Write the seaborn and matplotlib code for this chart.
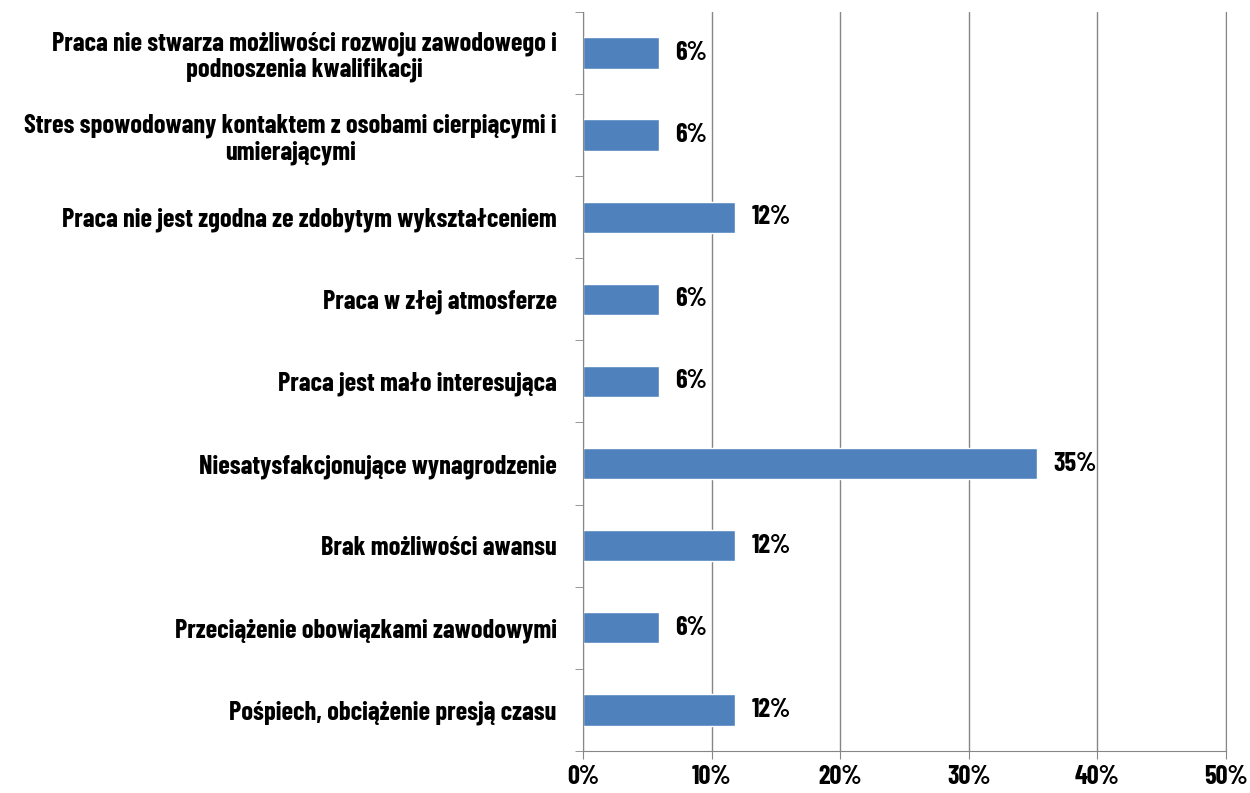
import matplotlib
matplotlib.use('Agg')
import matplotlib.pyplot as plt
import seaborn as sns
import pandas as pd
import numpy as np
from matplotlib.ticker import FixedLocator, PercentFormatter

# dane (odsetek odpowiedzi)
categories = [
    'Praca nie stwarza możliwości rozwoju zawodowego i\npodnoszenia kwalifikacji',
    'Stres spowodowany kontaktem z osobami cierpiącymi i\numierającymi',
    'Praca nie jest zgodna ze zdobytym wykształceniem',
    'Praca w złej atmosferze',
    'Praca jest mało interesująca',
    'Niesatysfakcjonujące wynagrodzenie',
    'Brak możliwości awansu',
    'Przeciążenie obowiązkami zawodowymi',
    'Pośpiech, obciążenie presją czasu',
]
values = [5.9, 5.9, 11.8, 5.9, 5.9, 35.3, 11.8, 5.9, 11.8]
value_labels = ['6%', '6%', '12%', '6%', '6%', '35%', '12%', '6%', '12%']

df = pd.DataFrame({'kategoria': categories, 'procent': values})

sns.set_style('white')
plt.rcParams['font.family'] = ['Barlow Condensed', 'DejaVu Sans']
plt.rcParams['font.weight'] = 'bold'
plt.rcParams['text.color'] = 'black'

fs = 19

fig = plt.figure(figsize=(12.5, 7.93), dpi=100)
ax = fig.add_axes([0.4664, 0.053, 0.5144, 0.932])

sns.barplot(data=df, x='procent', y='kategoria', orient='h', color='#4F81BD',
            saturation=1, width=0.38, ax=ax)

ax.bar_label(ax.containers[0], labels=value_labels, padding=12,
             fontsize=fs, fontweight='bold', color='black')

ax.set_xlim(0, 50)
ax.set_ylim(len(categories) - 0.5, -0.5)
ax.set_xticks(np.arange(0, 51, 10))
ax.xaxis.set_major_formatter(PercentFormatter(decimals=0))
ax.set_xlabel('')
ax.set_ylabel('')

ax.grid(axis='x', color='#868686', linewidth=1)
ax.set_axisbelow(True)

ax.spines['top'].set_visible(False)
for s in ['left', 'bottom', 'right']:
    ax.spines[s].set_color('#868686')

# ticki między kategoriami jak w Excelu
ax.yaxis.set_minor_locator(FixedLocator(np.arange(-0.5, len(categories), 1)))
ax.tick_params(axis='y', which='major', length=0, pad=19, labelsize=fs,
               labelcolor='black')
ax.tick_params(axis='y', which='minor', length=6, color='#868686', left=True)
ax.tick_params(axis='x', which='major', length=6, color='#868686', bottom=True,
               labelsize=fs, pad=4, labelcolor='black')
for t in ax.get_yticklabels():
    t.set_multialignment('center')
    t.set_linespacing(1.12)
    t.set_fontweight('bold')

fig.savefig('out.png', dpi=100)
